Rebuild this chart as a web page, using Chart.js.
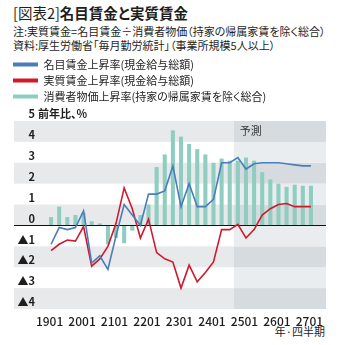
<!DOCTYPE html>
<html lang="ja">
<head>
<meta charset="utf-8">
<script src="https://cdn.jsdelivr.net/npm/chart.js@4/dist/chart.umd.min.js"></script>
<style>
  body { margin: 0; width: 339px; height: 345px; background: #fff; position: relative; overflow: hidden;
         font-family: "Noto Sans CJK JP", "Noto Sans", sans-serif; color: #1e1e1e; font-feature-settings: "palt"; }
  .txt { position: absolute; left: 13px; white-space: nowrap; }
  #title { top: 4px; font-size: 14.5px; line-height: 18px; }
  #title b { font-weight: 700; }
  #note1 { top: 24px; font-size: 11px; line-height: 14px; }
  #note2 { top: 38px; font-size: 11px; line-height: 14px; }
  #unit { position: absolute; right: 14px; top: 324px; font-size: 11px; line-height: 14px; }
  #chartBox { position: absolute; left: 8px; top: 54px; }
</style>
</head>
<body>
<div class="txt" id="title">[図表2]<b>名目賃金と実質賃金</b></div>
<div class="txt" id="note1">注:実質賃金=名目賃金÷消費者物価（持家の帰属家賃を除く総合）</div>
<div class="txt" id="note2">資料:厚生労働省「毎月勤労統計」（事業所規模5人以上）</div>
<div id="unit">年·四半期</div>
<div id="chartBox"><canvas id="wageChart" width="331" height="291"></canvas></div>

<script>
// 2019Q1 .. 2027Q1
let quarters = [
  "1901", "1902", "1903", "1904",
  "2001", "2002", "2003", "2004",
  "2101", "2102", "2103", "2104",
  "2201", "2202", "2203", "2204",
  "2301", "2302", "2303", "2304",
  "2401", "2402", "2403", "2404",
  "2501", "2502", "2503", "2504",
  "2601", "2602", "2603", "2604",
  "2701"
];

// 名目賃金上昇率
let nominalWage = [
  -0.9, -0.1, -0.2, -0.1,
  0.7, -1.8, -1.45, -2.1,
  -0.5, 1.0, 0.5, 0.0,
  1.5, 1.5, 1.65, 2.85,
  0.9, 2.0, 0.9, 0.9,
  1.25, 3.0, 3.0, 3.25,
  2.7, 2.95, 3.0, 3.0,
  3.0, 2.95, 2.9, 2.85,
  2.85
];

// 実質賃金上昇率
let realWage = [
  -1.2, -0.9, -0.7, -0.75,
  -0.05, -1.95, -1.6, -1.0,
  0.1, 1.8, 0.8, -0.6,
  0.3, -1.3, -1.6, -1.75,
  -3.0, -1.9, -2.7, -2.25,
  -1.75, -0.2, -0.2, 0.05,
  -0.6, -0.2, 0.5, 0.8,
  1.0, 1.05, 0.9, 0.9,
  0.9
];

// 消費者物価上昇率
let cpi = [
  0.4, 0.9, 0.4, 0.5,
  0.6, 0.2, 0.1, -0.9,
  -0.6, -0.85, -0.25, 0.5,
  1.0, 2.8, 3.4, 4.55,
  4.25, 3.9, 3.65, 3.4,
  3.0, 3.2, 3.1, 3.1,
  3.25, 3.1, 2.55, 2.2,
  2.0, 1.85, 1.95, 1.9,
  1.9
];

let legendNames = [
  "名目賃金上昇率(現金給与総額)",
  "実質賃金上昇率(現金給与総額)",
  "消費者物価上昇率(持家の帰属家賃を除く総合)"
];

let forecastFrom = "2404"; // 予測 starts here
let yMin = -4, yMax = 5;

const BAND_LEFT = 6, BAND_RIGHT = 318; // canvas px, bands run past the plot
const JP = '"Noto Sans CJK JP", "Noto Sans", sans-serif';

// grey bands, forecast shading, 予測
const bandsPlugin = {
  id: "bands",
  beforeDraw(chart) {
    const ctx = chart.ctx;
    const y = chart.scales.y;
    const x = chart.scales.x;
    const fi = quarters.indexOf(forecastFrom);
    const fx = (x.getPixelForValue(fi - 1) + x.getPixelForValue(fi)) / 2;
    ctx.save();
    for (let v = yMin; v < yMax; v++) {
      const top = y.getPixelForValue(v + 1);
      const bot = y.getPixelForValue(v);
      const grey = v % 2 === 0;
      if (grey) {
        ctx.fillStyle = "#e8e9eb";
        ctx.fillRect(BAND_LEFT, top, fx - BAND_LEFT, bot - top);
      }
      ctx.fillStyle = grey ? "#d5dbdf" : "#e9edf0";
      ctx.fillRect(fx, top, BAND_RIGHT - fx, bot - top);
    }
    ctx.fillStyle = "#333";
    ctx.font = "11px " + JP;
    ctx.textBaseline = "middle";
    ctx.textAlign = "left";
    ctx.fillText("予測", fx + 6, y.getPixelForValue(yMax) + 10);
    ctx.restore();
  },
  afterDatasetDraw(chart, args) {
    if (args.meta.type !== "bar") return;
    const ctx = chart.ctx;
    const y0 = Math.round(chart.scales.y.getPixelForValue(0)) + 0.5;
    ctx.save();
    ctx.strokeStyle = "#111";
    ctx.lineWidth = 1;
    ctx.beginPath();
    ctx.moveTo(BAND_LEFT, y0);
    ctx.lineTo(BAND_RIGHT, y0);
    ctx.stroke();
    ctx.restore();
  },
  afterDraw(chart) {
    const ctx = chart.ctx;
    const y = chart.scales.y;
    ctx.save();
    ctx.fillStyle = "#1e1e1e";
    ctx.font = "bold 11px " + JP;
    ctx.textBaseline = "middle";
    ctx.textAlign = "left";
    ctx.fillText("前年比、%", 30, y.getPixelForValue(yMax) - 7);
    ctx.restore();
  }
};

// fixed legend height so the plot lands where the reference has it
const legendHeightPlugin = {
  id: "legendHeight",
  beforeInit(chart) {
    const fit = chart.legend.fit;
    chart.legend.fit = function () {
      fit.bind(chart.legend)();
      this.height = 67;
    };
  }
};

let ctx = document.getElementById("wageChart").getContext("2d");
let chart = new Chart(ctx, {
  type: "bar",
  data: {
    labels: quarters,
    datasets: [
      {
        type: "line",
        label: legendNames[0],
        data: nominalWage,
        borderColor: "#4a7dbb",
        backgroundColor: "#4a7dbb",
        borderWidth: 1.6,
        pointRadius: 0,
        tension: 0
      },
      {
        type: "line",
        label: legendNames[1],
        data: realWage,
        borderColor: "#d2192b",
        backgroundColor: "#d2192b",
        borderWidth: 1.6,
        pointRadius: 0,
        tension: 0
      },
      {
        type: "bar",
        label: legendNames[2],
        data: cpi,
        backgroundColor: "#8ecdbf",
        barPercentage: 0.5,
        categoryPercentage: 1.0
      }
    ]
  },
  options: {
    responsive: false,
    animation: false,
    layout: { padding: { left: 0, right: 24, top: 0, bottom: 0 } },
    plugins: {
      legend: {
        position: "top",
        align: "start",
        labels: {
          boxWidth: 25,
          boxHeight: 4,
          padding: 5,
          color: "#1e1e1e",
          font: { size: 11, family: JP },
          generateLabels(chart) {
            return chart.data.datasets.map((ds, i) => ({
              text: ds.label,
              fillStyle: ds.type === "line" ? ds.borderColor : ds.backgroundColor,
              strokeStyle: "rgba(0,0,0,0)",
              lineWidth: 0,
              fontColor: "#1e1e1e",
              hidden: false,
              datasetIndex: i
            }));
          }
        }
      },
      tooltip: { enabled: false }
    },
    scales: {
      x: {
        offset: true,
        grid: { display: false, drawTicks: false },
        border: { display: false },
        ticks: {
          autoSkip: false,
          maxRotation: 0,
          padding: 5,
          labelOffset: -1.5,
          color: "#1e1e1e",
          font: { size: 12, weight: "500", family: JP },
          callback: (value, index) => quarters[index].endsWith("01") ? quarters[index] : ""
        },
        afterFit(scale) { scale.height = 36; }
      },
      y: {
        min: yMin,
        max: yMax,
        grid: { display: false, drawTicks: false },
        border: { display: false },
        ticks: {
          stepSize: 1,
          padding: 12,
          labelOffset: -7,
          color: "#1e1e1e",
          font: { size: 11, weight: "bold", family: JP },
          callback: (v) => v < 0 ? "▲" + (-v) : String(v)
        },
        afterFit(scale) { scale.width = 39; }
      }
    }
  },
  plugins: [bandsPlugin, legendHeightPlugin]
});
</script>
</body>
</html>
